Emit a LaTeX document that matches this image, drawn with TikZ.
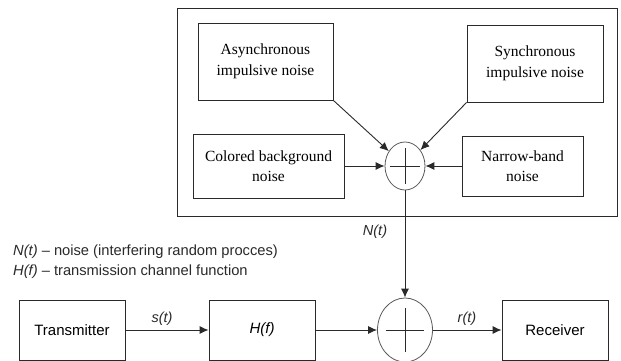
\documentclass[tikz,border=0pt]{standalone}
\usepackage{fontspec}
\setmainfont{Liberation Serif}
\setsansfont{Liberation Sans}
\usetikzlibrary{shapes.geometric,arrows.meta}
\definecolor{ln}{HTML}{2A2A2A}
\definecolor{cl}{HTML}{5A5A5A}
\begin{document}
\begin{tikzpicture}[x=1pt,y=-1pt,
  serifbox/.style={draw=ln,line width=0.9pt,align=center,inner sep=0pt,
    font=\fontsize{15.5}{20.5}\selectfont},
  sansbox/.style={draw=ln,line width=0.9pt,align=center,inner sep=0pt,
    minimum width=106pt,minimum height=60pt,font=\sffamily\fontsize{15}{18}\selectfont},
  sumnode/.style={draw=cl,line width=0.8pt,ellipse,inner sep=0pt},
  arr/.style={draw=ln,line width=0.9pt,-{Latex[length=9pt,width=8pt]}},
  lbl/.style={font=\sffamily\itshape\fontsize{14.5}{17}\selectfont,text=ln,inner sep=0pt},
  legend/.style={font=\sffamily\fontsize{14.7}{17}\selectfont,text=ln,inner sep=0pt,anchor=west}]
\useasboundingbox (0,0) rectangle (621,361);
\fill[white] (0,0) rectangle (621,361);

% noise container
\node[draw=ln,line width=0.9pt,minimum width=440pt,minimum height=208pt,inner sep=0pt] (noisebox) at (397,112) {};

\node[serifbox,minimum width=135pt,minimum height=77pt] (async) at (265.5,61.5) {Asynchronous\\impulsive noise};
\node[serifbox,minimum width=136pt,minimum height=77pt] (sync) at (535,63.5) {Synchronous\\impulsive noise};
\node[serifbox,minimum width=151pt,minimum height=64pt] (colored) at (268.5,166) {Colored background\\noise};
\node[serifbox,minimum width=121pt,minimum height=60pt] (narrow) at (522.5,166) {Narrow-band\\noise};

\node[sumnode,minimum width=40pt,minimum height=48pt] (s1) at (405,166) {};
\draw[ln,line width=0.9pt] ([xshift=-15pt]s1.center) -- ([xshift=15pt]s1.center);
\draw[ln,line width=0.9pt] ([yshift=-18pt]s1.center) -- ([yshift=18pt]s1.center);

\draw[arr] (async.south east) -- (s1);
\draw[arr] (sync.south west) -- (s1);
\draw[arr] (colored.east) -- (s1.west);
\draw[arr] (narrow.west) -- (s1.east);

% transmission chain
\node[sansbox] (tx) at (72,330) {Transmitter};
\node[sansbox] (hf) at (262,330) {\itshape H(f)};
\node[sansbox] (rx) at (555,330) {Receiver};
\node[sumnode,minimum width=55pt,minimum height=64pt] (s2) at (405,330) {};
\draw[ln,line width=0.9pt] ([xshift=-19pt]s2.center) -- ([xshift=19pt]s2.center);
\draw[ln,line width=0.9pt] ([yshift=-22pt]s2.center) -- ([yshift=22pt]s2.center);

\draw[arr] (s1.south) -- (s2.north);
\draw[arr] (tx.east) -- (hf.west);
\draw[arr] (hf.east) -- (s2.west);
\draw[arr] (s2.east) -- (rx.west);

\node[lbl] (nt) at (375,232) {N(t)};
\node[lbl] (st) at (162,319) {s(t)};
\node[lbl] (rt) at (467,319) {r(t)};

\node[legend] (leg1) at (13,252) {\itshape N(t)\upshape{} – noise (interfering random procces)};
\node[legend] (leg2) at (13,272) {\itshape H(f)\upshape{} – transmission channel function};
\end{tikzpicture}
\end{document}
